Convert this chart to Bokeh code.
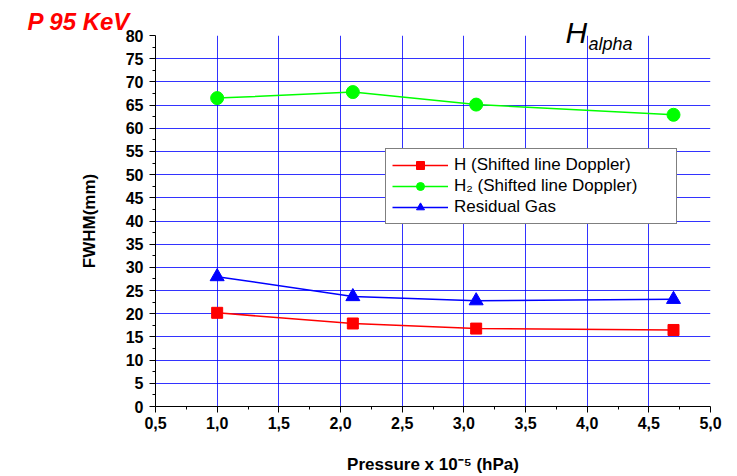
from bokeh.plotting import figure
from bokeh.models import FixedTicker, Label, Range1d, Legend, LegendItem
from bokeh.embed import file_html
from bokeh.resources import INLINE

# ---- data ----
pressure = [1.0, 2.1, 3.1, 4.7]
fwhm_h = [20.2, 17.9, 16.8, 16.5]
fwhm_h2 = [66.5, 67.8, 65.1, 62.9]
fwhm_residual = [28.0, 23.7, 22.8, 23.1]

x_ticks = [0.5, 1.0, 1.5, 2.0, 2.5, 3.0, 3.5, 4.0, 4.5, 5.0]
x_tick_labels = ["0,5", "1,0", "1,5", "2,0", "2,5", "3,0", "3,5", "4,0", "4,5", "5,0"]
y_ticks = list(range(0, 81, 5))

labels = ["H (Shifted line Doppler)", "H\u2082 (Shifted line Doppler)", "Residual Gas"]

FONT = "Liberation Sans"

p = figure(width=737, height=476, output_backend="svg", toolbar_location=None,
           x_range=Range1d(0.5, 5.0), y_range=Range1d(0, 80),
           min_border_left=155, min_border_right=27, min_border_top=35, min_border_bottom=69)
p.outline_line_color = None
p.background_fill_color = "white"

# title
p.title.text = "P 95 KeV"
p.title.align = "left"
p.title.offset = -128
p.title.text_font = FONT
p.title.text_font_size = "24px"
p.title.text_font_style = "bold italic"
p.title.text_color = "#ff0000"
p.title.standoff = 2

# axes
p.xaxis.ticker = FixedTicker(ticks=x_ticks,
                             minor_ticks=[t + 0.25 for t in x_ticks[:-1]])
p.xaxis.major_label_overrides = {t: l for t, l in zip(x_ticks, x_tick_labels)}
p.yaxis.ticker = FixedTicker(ticks=y_ticks, minor_ticks=[t + 2.5 for t in y_ticks[:-1]])

for ax in (p.xaxis, p.yaxis):
    ax.axis_line_color = "black"
    ax.major_tick_line_color = "black"
    ax.minor_tick_line_color = "black"
    ax.major_tick_out = 6
    ax.major_tick_in = 0
    ax.minor_tick_out = 3
    ax.minor_tick_in = 0
    ax.major_label_text_font = FONT
    ax.major_label_text_font_style = "bold"
    ax.major_label_text_font_size = "16px"
    ax.major_label_text_color = "black"
    ax.axis_label_text_font = FONT
    ax.axis_label_text_font_style = "bold"
    ax.axis_label_text_font_size = "17px"
    ax.axis_label_text_color = "black"

p.xaxis.axis_label = "Pressure x 10\u207b\u2075 (hPa)"
p.yaxis.axis_label = "FWHM(mm)"
p.xaxis.major_label_standoff = 4
p.xaxis.axis_label_standoff = 23
p.yaxis.major_label_standoff = 6
p.yaxis.axis_label_standoff = 24

# grid
p.xgrid.ticker = FixedTicker(ticks=x_ticks[1:-1])
p.ygrid.ticker = FixedTicker(ticks=y_ticks[1:-1])
for g in (p.xgrid, p.ygrid):
    g.grid_line_color = "#0000ff"
    g.grid_line_alpha = 0.8
    g.grid_line_width = 1

# series
r_h_l = p.line(pressure, fwhm_h, line_color="#ff0000", line_width=1.5)
r_h_m = p.scatter(pressure, fwhm_h, marker="square", size=11, fill_color="#ff0000", line_color="#ff0000")
r_h2_l = p.line(pressure, fwhm_h2, line_color="#00ff00", line_width=1.5)
r_h2_m = p.scatter(pressure, fwhm_h2, marker="circle", size=13, fill_color="#00ff00", line_color="#00ff00")
r_r_l = p.line(pressure, fwhm_residual, line_color="#0000ff", line_width=1.5)
r_r_m = p.scatter(pressure, fwhm_residual, marker="triangle", size=14, fill_color="#0000ff", line_color="#0000ff")

legend = Legend(items=[
    LegendItem(label=labels[0], renderers=[r_h_l, r_h_m]),
    LegendItem(label=labels[1], renderers=[r_h2_l, r_h2_m]),
    LegendItem(label=labels[2], renderers=[r_r_l, r_r_m]),
], location=(230, 182))
legend.border_line_color = "black"
legend.border_line_width = 1
legend.background_fill_color = "white"
legend.background_fill_alpha = 1.0
legend.label_text_font = FONT
legend.label_text_font_size = "17px"
legend.label_text_color = "black"
legend.padding = 6
legend.margin = 0
legend.spacing = 1
legend.label_height = 20
legend.glyph_height = 20
legend.glyph_width = 56
legend.label_standoff = 6
legend.label_width = 216
p.add_layout(legend, "center")

# H_alpha (canvas units, placed in the left side panel where there is spare width)
p.add_layout(Label(x=565, y=32, x_units="canvas", y_units="canvas", text="H", text_font=FONT,
                   text_font_size="30px", text_font_style="italic", text_color="black",
                   text_baseline="alphabetic"), "left")
p.add_layout(Label(x=588, y=43, x_units="canvas", y_units="canvas", text="alpha", text_font=FONT,
                   text_font_size="18px", text_font_style="italic", text_color="black",
                   text_baseline="alphabetic"), "left")

open("out.html", "w").write(file_html(p, INLINE))
